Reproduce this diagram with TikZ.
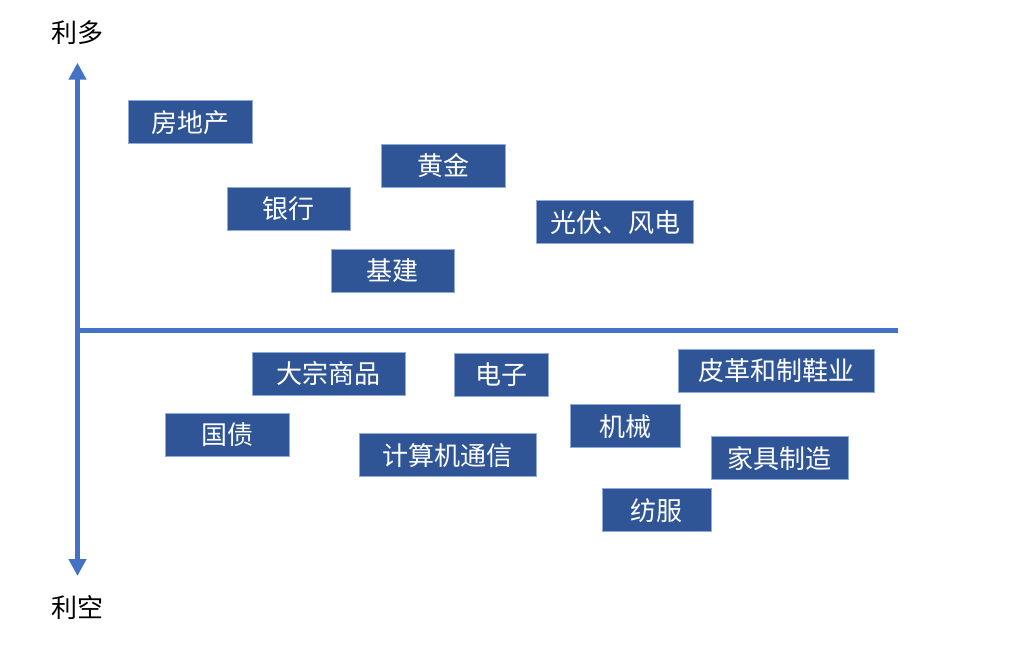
\documentclass[tikz,border=0pt]{standalone}
\usepackage{fontspec}
\usepackage{xcolor}
\usepackage{tikz}
\usetikzlibrary{arrows.meta}
\newfontfamily\cjk{Noto Sans CJK SC}
\definecolor{sectorblue}{HTML}{2F5597}
\definecolor{sectoredge}{HTML}{8FAADC}
\definecolor{axisblue}{HTML}{4472C4}

\begin{document}
\begin{tikzpicture}[x=1pt, y=-1pt,
  sector/.style={rectangle, fill=sectorblue, draw=sectoredge, line width=0.8pt,
    text=white, inner sep=0pt, minimum height=43pt,
    font=\cjk\fontsize{26}{30}\selectfont},
  axislabel/.style={text=black, inner sep=0pt, font=\cjk\fontsize{26}{30}\selectfont}]
  \useasboundingbox (0,0) rectangle (1012,654);

  % axes
  \coordinate (top) at (77.5,62.7);
  \coordinate (bottom) at (77.5,576);
  \coordinate (origin) at (77.5,330.5);
  \coordinate (right) at (898,330.5);
  \draw[axisblue, line width=5pt, {Triangle[width=17pt, length=17pt]}-{Triangle[width=17pt, length=17pt]}] (bottom) -- (top);
  \draw[axisblue, line width=5.5pt] (origin) -- (right);
  \node[axislabel] (lido) at (77.5,32.5) {利多};
  \node[axislabel] (likong) at (77.5,608) {利空};

  % good news
  \node[sector, minimum width=124pt] (fangdichan) at (190.3,122.3) {房地产};
  \node[sector, minimum width=123.6pt] (huangjin) at (443.5,165.8) {黄金};
  \node[sector, minimum width=123.7pt] (yinhang) at (288.8,209) {银行};
  \node[sector, minimum width=157.4pt] (guangfu) at (615,222.3) {光伏、风电};
  \node[sector, minimum width=123.7pt] (jijian) at (392.8,271) {基建};

  % bad news
  \node[sector, minimum width=152.7pt] (dazong) at (328.6,373.8) {大宗商品};
  \node[sector, minimum width=93.3pt] (dianzi) at (501.3,375) {电子};
  \node[sector, minimum width=196.3pt] (pige) at (776.2,370.5) {皮革和制鞋业};
  \node[sector, minimum width=123.7pt] (guozhai) at (227.2,434.5) {国债};
  \node[sector, minimum width=177.3pt] (jisuanji) at (447.7,455.2) {计算机通信};
  \node[sector, minimum width=109.3pt] (jixie) at (625.3,426.3) {机械};
  \node[sector, minimum width=137pt] (jiaju) at (779.5,458.2) {家具制造};
  \node[sector, minimum width=109pt] (fangfu) at (656.5,510.2) {纺服};
\end{tikzpicture}
\end{document}
